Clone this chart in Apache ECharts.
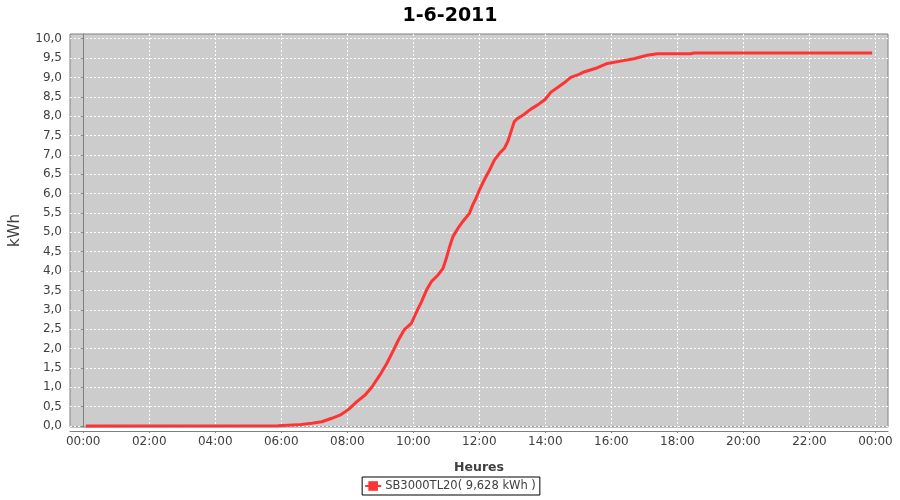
<!DOCTYPE html>
<html>
<head>
<meta charset="utf-8">
<script src="https://cdn.jsdelivr.net/npm/echarts@6/dist/echarts.min.js"></script>
<style>html,body{margin:0;padding:0;background:#fff}#c{width:900px;height:500px}</style>
</head>
<body>
<div id="c"></div>
<script>
var title = '1-6-2011';
var seriesName = 'SB3000TL20( 9,628 kWh )';
var hours = [0.08, 5.9, 6.5, 6.93, 7.23, 7.53, 7.78, 8.04, 8.29, 8.54, 8.74, 8.99, 9.2, 9.4, 9.55, 9.72, 9.94, 10.1, 10.25, 10.4, 10.55, 10.75, 10.9, 11.0, 11.1, 11.2, 11.35, 11.5, 11.7, 11.8, 11.9, 12.0, 12.16, 12.31, 12.46, 12.61, 12.76, 12.86, 12.96, 13.06, 13.16, 13.36, 13.56, 13.77, 13.99, 14.17, 14.37, 14.57, 14.77, 15.02, 15.17, 15.58, 15.88, 16.28, 16.68, 17.08, 17.39, 18.4, 18.5, 23.9];
var kwh = [0, 0.01, 0.03, 0.07, 0.11, 0.2, 0.28, 0.43, 0.63, 0.8, 1.0, 1.32, 1.62, 1.96, 2.22, 2.48, 2.65, 2.95, 3.21, 3.51, 3.73, 3.9, 4.07, 4.33, 4.63, 4.89, 5.1, 5.28, 5.49, 5.71, 5.88, 6.09, 6.37, 6.61, 6.87, 7.04, 7.17, 7.34, 7.6, 7.86, 7.94, 8.05, 8.18, 8.29, 8.43, 8.62, 8.74, 8.86, 9.0, 9.08, 9.14, 9.25, 9.36, 9.42, 9.48, 9.57, 9.61, 9.61, 9.628, 9.628];
var xTicks = [0, 2, 4, 6, 8, 10, 12, 14, 16, 18, 20, 22, 24];
var yTicks = [0, 0.5, 1, 1.5, 2, 2.5, 3, 3.5, 4, 4.5, 5, 5.5, 6, 6.5, 7, 7.5, 8, 8.5, 9, 9.5, 10];

var data = hours.map(function (h, i) { return [h, kwh[i]]; });
var font = 'DejaVu Sans';
var chart = echarts.init(document.getElementById('c'), null, {renderer: 'canvas'});
chart.setOption({
  animation: false,
  backgroundColor: '#ffffff',
  title: {
    text: title, left: 'center', top: 2,
    textStyle: {fontFamily: font, fontSize: 19, fontWeight: 'bold', color: '#000'}
  },
  legend: {
    left: 'center', top: 477,
    data: [seriesName],
    backgroundColor: '#fff', borderColor: '#000', borderWidth: 1,
    padding: [3, 4, 3, 2], itemWidth: 16, itemHeight: 12, itemGap: 4,
    textStyle: {fontFamily: font, fontSize: 11.5, color: '#404040', padding: [0, 0, 0, -1]}
  },
  grid: {
    left: 67, right: 12, top: 34, bottom: 73,
    show: true, backgroundColor: '#cccccc', borderColor: '#808080', borderWidth: 1
  },
  xAxis: {
    type: 'value', min: -0.4, max: 24.38, offset: 4,
    name: 'Heures', nameLocation: 'middle', nameGap: 30,
    nameTextStyle: {fontFamily: font, fontSize: 12.5, fontWeight: 'bold', color: '#404040'},
    axisLine: {show: true, onZero: false, lineStyle: {color: '#808080', width: 1}},
    axisTick: {show: true, length: 2, customValues: xTicks, lineStyle: {color: '#808080'}},
    axisLabel: {
      customValues: xTicks, fontFamily: font, fontSize: 12, color: '#404040', margin: 5,
      formatter: function (v) { var h = Math.round(v) % 24; return (h < 10 ? '0' : '') + h + ':00'; }
    },
    splitLine: {show: true, lineStyle: {color: '#ffffff', type: [2, 2], width: 1}}
  },
  yAxis: {
    type: 'value', min: -0.025, max: 10.12, offset: 4,
    name: 'kWh', nameLocation: 'middle', nameGap: 43, nameRotate: 90,
    nameTextStyle: {fontFamily: font, fontSize: 15, fontWeight: 'normal', color: '#404040'},
    axisLine: {show: true, lineStyle: {color: '#808080', width: 1}},
    axisTick: {show: true, length: 2, customValues: yTicks, lineStyle: {color: '#808080'}},
    axisLabel: {
      customValues: yTicks, fontFamily: font, fontSize: 12, color: '#404040', margin: 4,
      formatter: function (v) { return v.toFixed(1).replace('.', ','); }
    },
    splitLine: {show: true, lineStyle: {color: '#ffffff', type: [2, 2], width: 1}}
  },
  series: [{
    name: seriesName, type: 'line', data: data,
    showSymbol: false, symbol: 'rect', symbolSize: 4,
    lineStyle: {color: '#ff3333', width: 3},
    itemStyle: {color: '#ff3333'}
  }]
});
</script>
</body>
</html>
